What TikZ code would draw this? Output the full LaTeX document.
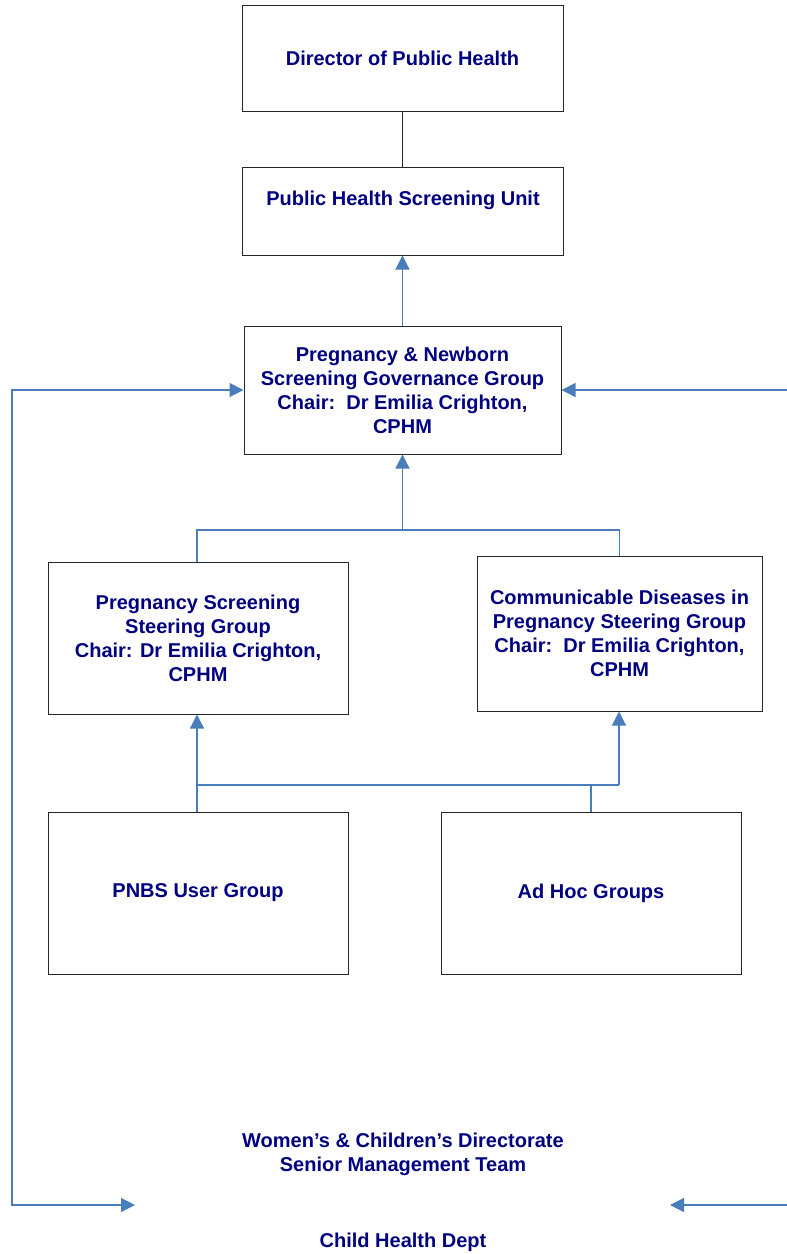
\documentclass[tikz,border=0pt]{standalone}
\usepackage{fontspec}
\setmainfont{Liberation Sans}
\usetikzlibrary{arrows.meta}
\definecolor{navy}{RGB}{0,0,128}
\definecolor{linkblue}{RGB}{74,126,187}
\begin{document}
\begin{tikzpicture}[x=1pt,y=-1pt,
  box/.style={draw=black!85, line width=1pt, fill=white, inner sep=0pt,
    align=center, text=navy, font=\fontsize{20}{24}\selectfont\bfseries},
  label text/.style={align=center, text=navy, inner sep=0pt,
    font=\fontsize{20}{24}\selectfont\bfseries},
  link/.style={draw=linkblue, line width=1.2pt},
  arrow/.style={link, -{Triangle[length=14pt,width=14pt]}},
  both arrows/.style={link, {Triangle[length=14pt,width=14pt]}-{Triangle[length=14pt,width=14pt]}}]
\useasboundingbox (0,0) rectangle (787,1254);

% boxes
\node[box, minimum width=321pt, minimum height=106pt] (dir) at (402.5,58.5) {Director of Public Health};
\node[box, minimum width=321pt, minimum height=88pt] (phsu) at (402.5,211) {};
\node[label text] (phsutext) at (403,200) {Public Health Screening Unit};
\node[box, minimum width=317pt, minimum height=128pt] (pnsg) at (402.5,390)
  {Pregnancy \& Newborn\\Screening Governance Group\\Chair:\ \ Dr Emilia Crighton,\\CPHM};
\node[box, minimum width=300pt, minimum height=152pt] (pssg) at (198,638)
  {Pregnancy Screening\\Steering Group\\Chair: Dr Emilia Crighton,\\CPHM};
\node[box, minimum width=285pt, minimum height=155pt] (cdsg) at (619.5,633.5)
  {Communicable Diseases in\\Pregnancy Steering Group\\Chair:\ \ Dr Emilia Crighton,\\CPHM};
\node[box, minimum width=300pt, minimum height=162pt] (pnbs) at (198,893) {PNBS User Group};
\node[box, minimum width=300pt, minimum height=162pt] (adhoc) at (591,893) {Ad Hoc Groups};

% free texts
\node[label text] (wcd) at (403,1154) {Women’s \& Children’s Directorate\\Senior Management Team};
\node[label text] (chd) at (403,1242) {Child Health Dept};

% junction points
\coordinate (j1) at (402.5,530);
\coordinate (j2) at (197,785);
\coordinate (j3) at (619,785);
\coordinate (lc) at (12,1205);
\coordinate (lb) at (135,1205);
\coordinate (rt) at (787,390);
\coordinate (rb) at (787,1205);
\coordinate (ra) at (670,1205);

% connectors
\draw[black!85, line width=1pt] (dir.south) -- (phsu.north);
\draw[arrow] (pnsg.north) -- (phsu.south);
\draw[link] (pssg.north -| j2) |- (j1);
\draw[link] (cdsg.north) |- (j1);
\draw[arrow] (j1) -- (pnsg.south);
\draw[link] (pnbs.north -| j2) -- (j2) -- (j3);
\draw[link] (adhoc.north) -- (adhoc.north |- j2);
\draw[arrow] (j2) -- (pssg.south -| j2);
\draw[arrow] (j3) -- (cdsg.south -| j3);
\draw[both arrows] (lb) -- (lc) |- (pnsg.west);
\draw[arrow] (rt) -- (pnsg.east);
\draw[arrow] (rb) -- (ra);
\end{tikzpicture}
\end{document}
